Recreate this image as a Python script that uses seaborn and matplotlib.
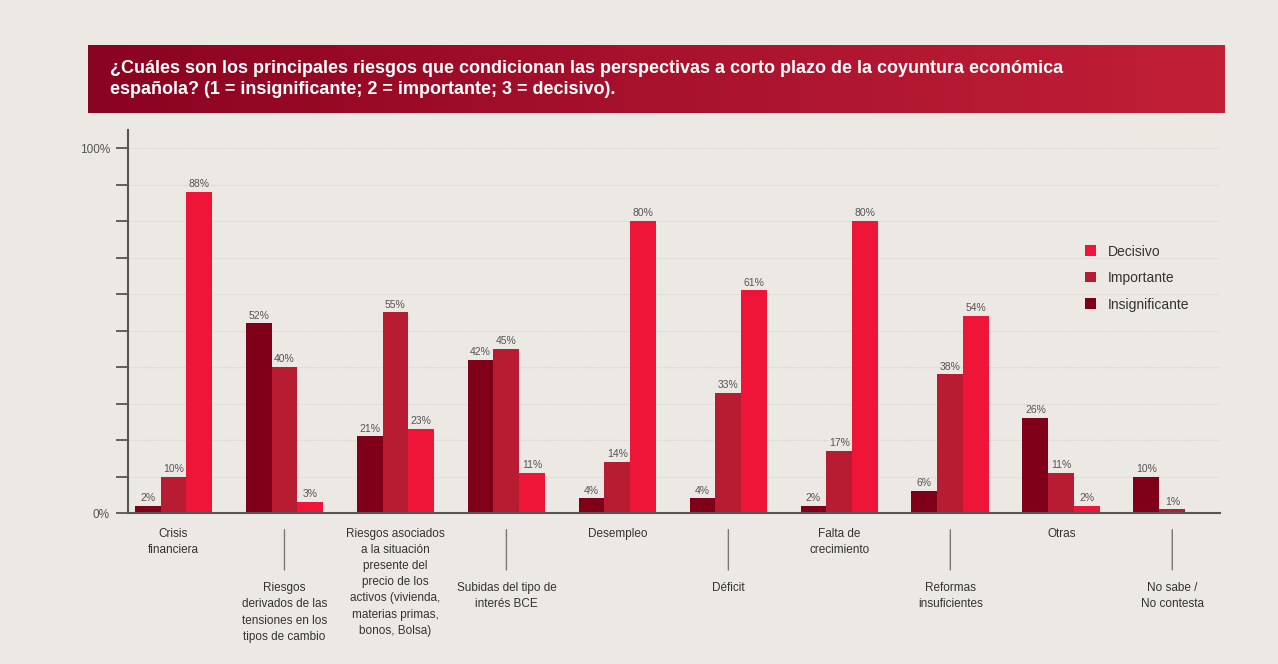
import numpy as np
import pandas as pd
import matplotlib
matplotlib.use('Agg')
import matplotlib.pyplot as plt
from matplotlib.colors import LinearSegmentedColormap
from matplotlib.patches import Patch
import seaborn as sns

# datos de la encuesta (% de respuestas)
categorias = ["Crisis\nfinanciera",
              "Riesgos\nderivados de las\ntensiones en los\ntipos de cambio",
              "Riesgos asociados\na la situación\npresente del\nprecio de los\nactivos (vivienda,\nmaterias primas,\nbonos, Bolsa)",
              "Subidas del tipo de\ninterés BCE",
              "Desempleo",
              "Déficit",
              "Falta de\ncrecimiento",
              "Reformas\ninsuficientes",
              "Otras",
              "No sabe /\nNo contesta"]
insignificante = [2, 52, 21, 42, 4, 4, 2, 6, 26, 10]
importante = [10, 40, 55, 45, 14, 33, 17, 38, 11, 1]
decisivo = [88, 3, 23, 11, 80, 61, 80, 54, 2, np.nan]
niveles = ["Insignificante", "Importante", "Decisivo"]
colores = {"Insignificante": "#80001a", "Importante": "#b81c33", "Decisivo": "#ee1539"}

titulo = ("¿Cuáles son los principales riesgos que condicionan las perspectivas a corto plazo de la coyuntura económica\n"
          "española? (1 = insignificante; 2 = importante; 3 = decisivo).")

df = pd.DataFrame({"cat": categorias * 3,
                   "nivel": np.repeat(niveles, len(categorias)),
                   "valor": insignificante + importante + decisivo})
df = df.dropna()

bg = '#ece8e4'
plt.rcParams['font.family'] = ['Liberation Sans', 'DejaVu Sans']

fig = plt.figure(figsize=(12.78, 6.64), dpi=100, facecolor=bg)
ax = fig.add_axes([128/1278, 1-513/664, (1220-128)/1278, (513-130)/664])
ax.set_facecolor(bg)

sns.barplot(data=df, x="cat", y="valor", hue="nivel", hue_order=niveles,
            order=categorias, palette=colores, width=0.7, saturation=1,
            errorbar=None, ax=ax, legend=False)

for c in ax.containers:
    ax.bar_label(c, fmt='%d%%', padding=2, fontsize=7.5, color='#555555')

ax.set_ylim(0, 105)
ax.set_xlim(-0.41, 9.43)
ax.set_yticks(range(0, 101, 10))
ax.set_yticklabels(['0%'] + [''] * 9 + ['100%'], fontsize=8.5, color='#555555')
ax.tick_params(axis='y', length=9, width=1.3, color='#555555', pad=4)
ax.tick_params(axis='x', length=0, labelbottom=False)
for y in range(10, 101, 10):
    ax.axhline(y, color='#d9d5d1', lw=0.8, ls=(0, (1, 1)), zorder=0)
ax.set_xlabel('')
ax.set_ylabel('')
for s in ['top', 'right']:
    ax.spines[s].set_visible(False)
for s in ['left', 'bottom']:
    ax.spines[s].set_color('#555555')
    ax.spines[s].set_linewidth(1.5)

# etiquetas de categoria alternadas (las impares mas abajo, con una linea guia)
for i, cat in enumerate(categorias):
    if i % 2 == 0:
        ax.annotate(cat, xy=(i, 0), xycoords='data', xytext=(0, -11),
                    textcoords='offset points', ha='center', va='top',
                    fontsize=8.5, linespacing=1.45, color='#333333')
    else:
        ax.annotate(cat, xy=(i, 0), xycoords='data', xytext=(0, -50),
                    textcoords='offset points', ha='center', va='top',
                    fontsize=8.5, linespacing=1.45, color='#333333')
        ax.annotate('', xy=(i, 0), xycoords='data', xytext=(0, -41),
                    textcoords='offset points',
                    arrowprops=dict(arrowstyle='-', color='#777777', lw=1,
                                    shrinkA=0, shrinkB=12))

# leyenda
handles = [Patch(facecolor=colores[n], label=n) for n in niveles[::-1]]
fig.legend(handles=handles, loc='upper left', bbox_to_anchor=(1072/1278, 1-232/664),
           frameon=False, fontsize=10, handlelength=0.8, handleheight=0.8,
           labelspacing=0.9, handletextpad=0.9, labelcolor='#333333')

# cabecera con degradado
axt = fig.add_axes([88/1278, 1-113/664, (1225-88)/1278, 68/664])
cmap = LinearSegmentedColormap.from_list('banda', ['#8a0321', '#a8122d', '#c11f37'])
axt.imshow(np.linspace(0, 1, 256).reshape(1, -1), aspect='auto', cmap=cmap,
           extent=[0, 1, 0, 1])
axt.set_axis_off()
axt.text(0.019, 0.5, titulo, transform=axt.transAxes, ha='left', va='center',
         color='white', fontsize=13, fontweight='bold', linespacing=1.3)

fig.savefig('out.png', dpi=100, facecolor=bg)
